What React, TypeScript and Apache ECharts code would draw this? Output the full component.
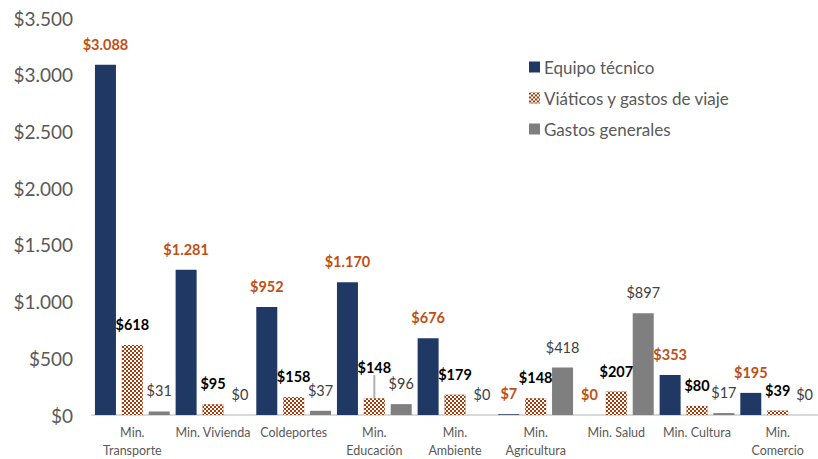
import React, { useEffect, useRef } from "react";
import * as echarts from "echarts";

const categories = [
  "Min.\nTransporte",
  "Min. Vivienda",
  "Coldeportes",
  "Min.\nEducación",
  "Min.\nAmbiente",
  "Min.\nAgricultura",
  "Min. Salud",
  "Min. Cultura",
  "Min.\nComercio",
];
const equipoTecnico = [3088, 1281, 952, 1170, 676, 7, 0, 353, 195];
const viaticos = [618, 95, 158, 148, 179, 148, 207, 80, 39];
const gastosGenerales = [31, 0, 37, 96, 0, 418, 897, 17, 0];
const seriesNames = ["Equipo técnico", "Viáticos y gastos de viaje", "Gastos generales"];

const FONT = "Lato, 'Open Sans', sans-serif";

function fmt(v: number): string {
  const s = Math.round(v).toString();
  return "$" + s.replace(/\B(?=(\d{3})+(?!\d))/g, ".");
}

export default function App() {
  const ref = useRef<HTMLDivElement>(null);
  useEffect(() => {
    if (!ref.current) return;
    const chart = echarts.init(ref.current, null, { renderer: "svg" });
    const labelBase = {
      show: true,
      position: "top" as const,
      distance: 13,
      fontFamily: FONT,
      formatter: (p: any) => fmt(p.value),
    };
    chart.setOption({
      animation: false,
      textStyle: { fontFamily: FONT },
      grid: { left: 92, right: -3, top: 18, bottom: 42, containLabel: false },
      legend: {
        orient: "vertical",
        left: 524,
        top: 52,
        itemWidth: 11,
        itemHeight: 11,
        itemGap: 11,
        icon: "rect",
        textStyle: { fontSize: 17, color: "#595959", fontFamily: FONT, lineHeight: 20, padding: [0, 0, 0, -1] },
        data: seriesNames,
      },
      xAxis: {
        type: "category",
        data: categories,
        axisTick: { show: false },
        axisLine: { lineStyle: { color: "#d9d9d9", width: 2 } },
        axisLabel: {
          interval: 0,
          fontSize: 12.5,
          color: "#595959",
          lineHeight: 18,
          margin: 8,
          fontFamily: FONT,
        },
      },
      yAxis: {
        type: "value",
        min: 0,
        max: 3500,
        interval: 500,
        splitLine: { show: false },
        axisLine: { show: false },
        axisTick: { show: false },
        axisLabel: {
          fontSize: 19,
          color: "#595959",
          margin: 19,
          fontFamily: FONT,
          formatter: (v: number) => fmt(v),
        },
      },
      series: [
        {
          name: seriesNames[0],
          type: "bar",
          data: equipoTecnico,
          barWidth: 21,
          barGap: "28%",
          itemStyle: { color: "#203864" },
          label: { ...labelBase, fontSize: 14.5, fontWeight: "bold", color: "#c04f15" },
        },
        {
          name: seriesNames[1],
          type: "bar",
          data: viaticos.map((v, i) =>
            i === 3
              ? { value: v, labelLine: { show: true, lineStyle: { color: "#b0b0b0", width: 2 } } }
              : v
          ),
          barWidth: 21,
          barGap: "28%",
          itemStyle: {
            color: "#a33c0c",
            decal: {
              symbol: "rect",
              symbolSize: 1,
              color: "#ffffff",
              dashArrayX: [
                [2, 2],
                [0, 2, 2, 0],
              ],
              dashArrayY: [2, 0],
              rotation: 0,
            },
          },
          label: { ...labelBase, fontSize: 14.5, fontWeight: "bold", color: "#000000" },
          labelLine: { show: false },
          labelLayout: (p: any) => (p.dataIndex === 3 ? { dy: -10 } : {}),
        },
        {
          name: seriesNames[2],
          type: "bar",
          data: gastosGenerales,
          barWidth: 21,
          barGap: "28%",
          itemStyle: { color: "#7f7f7f" },
          label: { ...labelBase, fontSize: 14.5, fontWeight: "normal", color: "#404040" },
        },
      ],
    });
    return () => chart.dispose();
  }, []);
  return (
    <div
      ref={ref}
      style={{ position: "fixed", left: 0, top: 0, width: 818, height: 459, background: "#fff" }}
    />
  );
}
